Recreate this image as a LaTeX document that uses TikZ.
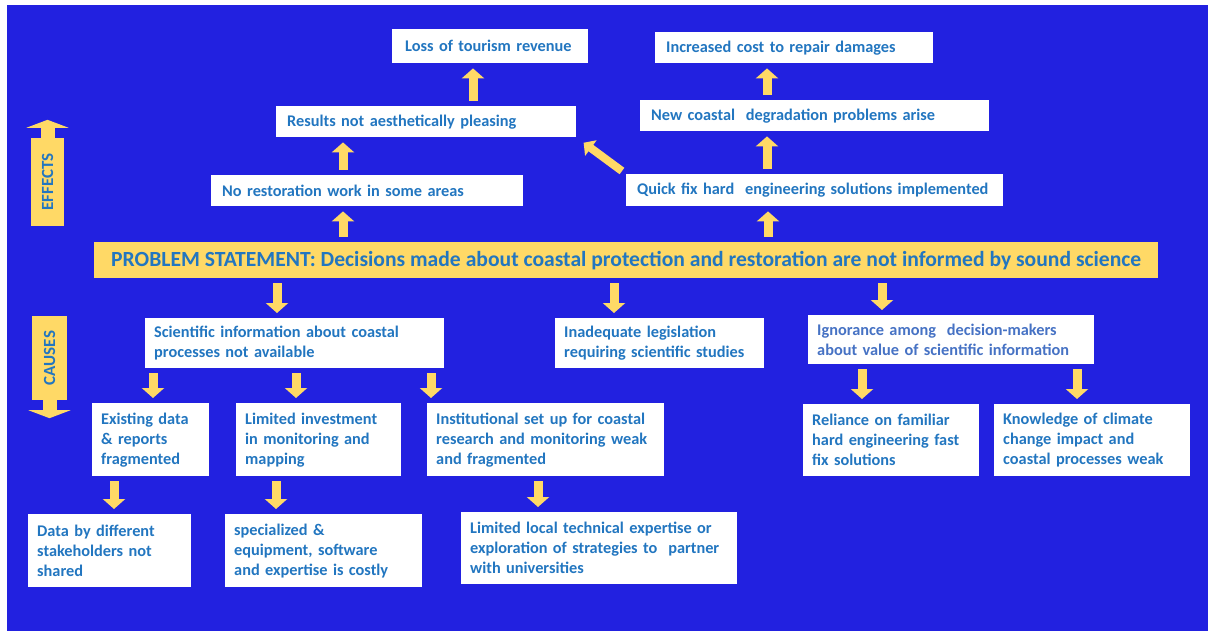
\documentclass[tikz,border=0pt]{standalone}
\usepackage{fontspec}
\usepackage{graphicx}
\setmainfont{Carlito}
\usetikzlibrary{arrows.meta}
\definecolor{bgC} {RGB}{ 34, 33,224}
\definecolor{ylwC}{RGB}{255,217,102}
\definecolor{txtC}{RGB}{ 34,118,192}
\definecolor{txtB}{RGB}{ 70,114,196}
\tikzset{
  wbox/.style    = {fill=white, anchor=north west, align=left, inner xsep=9pt,
                    inner ysep=0pt, text=txtC,
                    font=\fontsize{16.3}{20}\selectfont\bfseries},
  ybox/.style    = {fill=ylwC, anchor=north west, inner sep=0pt, text=txtC,
                    font=\fontsize{21.6}{24}\selectfont\bfseries},
  sidebox/.style = {fill=ylwC, inner sep=0pt, text=txtC,
                    font=\fontsize{17}{20}\selectfont\bfseries},
  yarr/.style    = {-{Triangle[length=10pt, width=22pt]}, line width=9pt,
                    color=ylwC, shorten <=5pt, shorten >=5pt},
  sidearr/.style = {-{Triangle[length=8pt, width=42pt]}, line width=14pt,
                    color=ylwC},
}

\begin{document}
\begin{tikzpicture}[x=1pt, y=-1pt]

% ---- Canvas -----------------------------------------------------------------
\useasboundingbox (0,0) rectangle (1208,631);
\fill[bgC] (7,5) rectangle (1208,631);

% ---- Effects ----------------------------------------------------------------
\node[wbox, text width=178pt, minimum height=34pt] (loss)    at (392,29)
  {\hspace*{4pt}Loss of tourism revenue};
\node[wbox, text width=260pt, minimum height=31pt] (cost)    at (655,32)
  {\hspace*{2pt}Increased cost to repair damages};
\node[wbox, text width=282pt, minimum height=31pt] (results) at (276,106)
  {\hspace*{2pt}Results not aesthetically pleasing};
\node[wbox, text width=331pt, minimum height=31pt] (newprob) at (640,100)
  {\hspace*{2pt}New coastal~ degradation problems arise};
\node[wbox, text width=294pt, minimum height=31pt] (norest)  at (211,175)
  {\hspace*{2pt}No restoration work in some areas};
\node[wbox, text width=359pt, minimum height=32pt] (quick)   at (626,174)
  {\hspace*{2pt}Quick fix hard~ engineering solutions implemented};

% ---- Problem statement ------------------------------------------------------
\node[ybox, minimum width=1064pt, minimum height=36pt] (prob) at (94,242)
  {PROBLEM STATEMENT: Decisions made about coastal protection and restoration are not informed by sound science};

% ---- Causes -----------------------------------------------------------------
\node[wbox, text width=281pt, minimum height=50pt] (sci)      at (145,318)
  {Scientific information about coastal\\processes not available};
\node[wbox, text width=191pt, minimum height=50pt] (legis)    at (555,318)
  {Inadequate legislation\\requiring scientific studies};
\node[wbox, text width=268pt, minimum height=49pt, text=txtB] (ignor) at (808,315)
  {Ignorance among~ decision-makers\\about value of scientific information};
\node[wbox, text width=99pt,  minimum height=73pt] (exist)    at (92,403)
  {Existing data\\\& reports\\fragmented};
\node[wbox, text width=147pt, minimum height=73pt] (invest)   at (236,403)
  {Limited investment\\in monitoring and\\mapping};
\node[wbox, text width=219pt, minimum height=73pt] (instit)   at (427,403)
  {Institutional set up for coastal\\research and monitoring weak\\and fragmented};
\node[wbox, text width=158pt, minimum height=72pt] (reliance) at (803,404)
  {Reliance on familiar\\hard engineering fast\\fix solutions};
\node[wbox, text width=178pt, minimum height=72pt] (knowl)    at (994,404)
  {Knowledge of climate\\change impact and\\coastal processes weak};
\node[wbox, text width=145pt, minimum height=73pt] (share)    at (28,514)
  {Data by different\\stakeholders not\\shared};
\node[wbox, text width=179pt, minimum height=73pt] (costly)   at (225,514)
  {specialized \&\\equipment, software\\and expertise is costly};
\node[wbox, text width=258pt, minimum height=72pt] (local)    at (461,512)
  {Limited local technical expertise or\\exploration of strategies to~ partner\\with universities};

% ---- Side labels ------------------------------------------------------------
\node[sidebox, minimum width=33pt, minimum height=88pt] (effects) at (47.5,182)
  {\rotatebox{90}{EFFECTS}};
\node[sidebox, minimum width=35pt, minimum height=84pt] (causes)  at (49.5,358)
  {\rotatebox{90}{CAUSES}};
\coordinate (efftip) at ([yshift=18pt]effects.north);
\coordinate (cautip) at ([yshift=-18pt]causes.south);
\draw[sidearr] (effects.north) -- (efftip);
\draw[sidearr] (causes.south) -- (cautip);

% ---- Arrows: upward (effects chain) -----------------------------------------
\foreach \a/\b/\x in {prob/norest/343, norest/results/343, results/loss/473,
                      prob/quick/768, quick/newprob/767, newprob/cost/767}
  \draw[yarr] (\a.north -| \x,0) -- (\b.south -| \x,0);
\draw[yarr, line width=8pt, shorten >=9pt,
      -{Triangle[length=9pt, width=19pt]}] (quick.north west) -- (results.south east);

% ---- Arrows: downward (causes tree) -----------------------------------------
\foreach \a/\b/\x in {prob/sci/277, prob/legis/614, prob/ignor/882,
                      sci/exist/153, sci/invest/296, sci/instit/431,
                      ignor/reliance/862, ignor/knowl/1077,
                      exist/share/114, invest/costly/276, instit/local/538}
  \draw[yarr] (\a.south -| \x,0) -- (\b.north -| \x,0);

\end{tikzpicture}
\end{document}
